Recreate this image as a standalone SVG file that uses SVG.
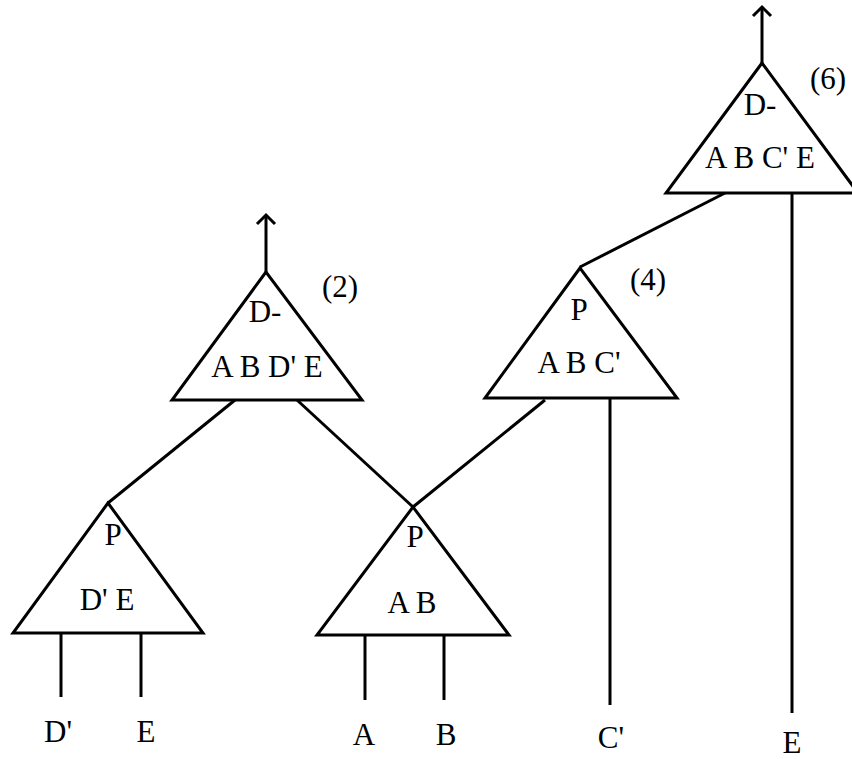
<svg xmlns="http://www.w3.org/2000/svg" width="852" height="759" viewBox="0 0 852 759">
<style>
.tri{fill:none;stroke:#000;stroke-width:3;stroke-linejoin:miter}
.ln{fill:none;stroke:#000;stroke-width:3}
text{font-family:"Liberation Serif","Times New Roman",serif;font-size:31px;fill:#000;text-anchor:middle}
</style>
<rect width="852" height="759" fill="#fff"/>
<g id="connectors">
<line class="ln" x1="762" y1="63" x2="762" y2="7"/>
<polyline class="ln" points="753,16 762,7 771,16"/>
<line class="ln" x1="266" y1="272" x2="266" y2="215"/>
<polyline class="ln" points="257,224 266,215 275,224"/>
<line class="ln" x1="235" y1="400" x2="108" y2="503"/>
<line class="ln" x1="297" y1="400" x2="413" y2="507"/>
<line class="ln" x1="545" y1="400" x2="413" y2="507"/>
<line class="ln" x1="580" y1="267" x2="725" y2="193"/>
<line class="ln" x1="61" y1="633" x2="61" y2="697"/>
<line class="ln" x1="141" y1="633" x2="141" y2="697"/>
<line class="ln" x1="365" y1="635" x2="365" y2="700"/>
<line class="ln" x1="444" y1="635" x2="444" y2="700"/>
<line class="ln" x1="610" y1="398" x2="610" y2="705"/>
<line class="ln" x1="792" y1="193" x2="792" y2="713"/>
</g>
<g id="node6">
<polygon class="tri" points="762,63 666,193 858,193"/>
<text x="760" y="115">D-</text>
<text x="760" y="168">A B C' E</text>
<text x="828" y="89">(6)</text>
</g>
<g id="node2">
<polygon class="tri" points="266,272 172,400 362,400"/>
<text x="265" y="322">D-</text>
<text x="267" y="377">A B D' E</text>
<text x="340" y="297">(2)</text>
</g>
<g id="node4">
<polygon class="tri" points="580,268 485,398 677,398"/>
<text x="579" y="320">P</text>
<text x="579" y="373">A B C'</text>
<text x="648" y="290">(4)</text>
</g>
<g id="nodeDE">
<polygon class="tri" points="108,503 13,633 203,633"/>
<text x="113" y="545">P</text>
<text x="107" y="610">D' E</text>
</g>
<g id="nodeAB">
<polygon class="tri" points="413,507 317,635 509,635"/>
<text x="415" y="547">P</text>
<text x="412" y="613">A B</text>
</g>
<g id="leaves">
<text x="58" y="742">D'</text>
<text x="146" y="742">E</text>
<text x="364" y="745">A</text>
<text x="446" y="745">B</text>
<text x="611" y="748">C'</text>
<text x="792" y="753">E</text>
</g>
</svg>
